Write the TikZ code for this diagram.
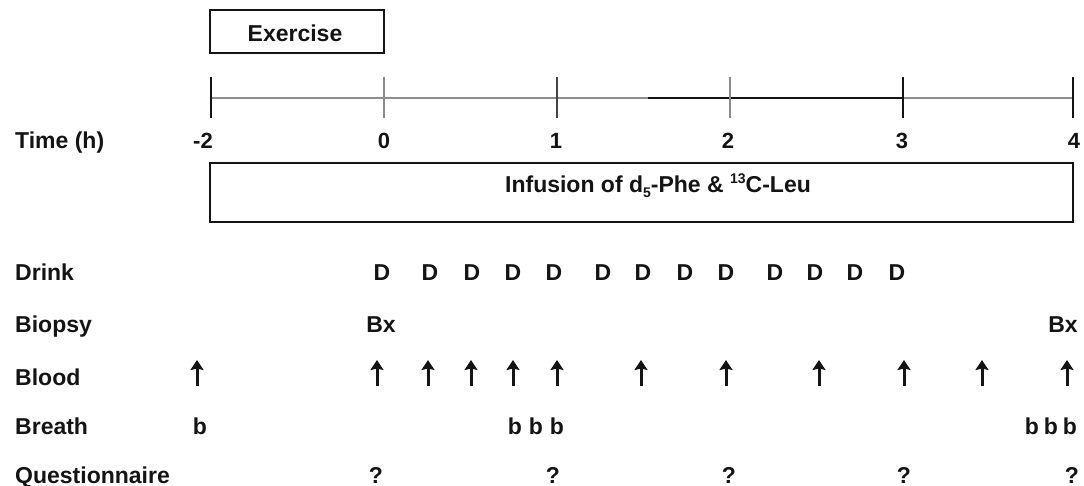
\documentclass[tikz,border=0pt]{standalone}
\usepackage{fontspec}
\setmainfont{Liberation Sans}
\usetikzlibrary{arrows.meta}
\definecolor{ink}{HTML}{141414}
\definecolor{axisgray}{HTML}{8C8C8C}
\begin{document}
\begin{tikzpicture}[x=1pt,y=-1pt,
  lbl/.style={font=\fontsize{23}{25}\selectfont\bfseries, text=ink, anchor=base west, inner sep=0pt},
  mk/.style={font=\fontsize{23}{25}\selectfont\bfseries, text=ink, anchor=base, inner sep=0pt},
  num/.style={font=\fontsize{22}{24}\selectfont\bfseries, text=ink, anchor=base, inner sep=0pt},
  boxline/.style={draw=ink, line width=1.8pt},
  axis/.style={line width=2pt},
  tick/.style={line width=2pt},
  bloodarrow/.style={draw=ink, line width=3pt, -{Stealth[length=10pt,width=13pt,inset=1.5pt]}}]
\useasboundingbox (0,0) rectangle (1084,486);

% Exercise box
\draw[boxline] (210,10) rectangle (384,53);
\node[font=\fontsize{23}{25}\selectfont\bfseries, text=ink, anchor=base, inner sep=0] (exercise) at (295,42) {Exercise};

% Timeline
\draw[axis, axisgray] (210,98) -- (648,98);
\draw[axis, ink] (648,98) -- (903,98);
\draw[axis, axisgray] (903,98) -- (1073,98);
\draw[tick, ink] (211,77) -- (211,118);
\draw[tick, axisgray] (384,77) -- (384,118);
\draw[tick, ink!80] (557,77) -- (557,118);
\draw[tick, axisgray] (730,77) -- (730,118);
\draw[tick, ink] (903,77) -- (903,118);
\draw[tick, ink] (1073,77) -- (1073,118);

% Time labels
\node[lbl] (time) at (15,149) {Time (h)};
\node[num] (tm2) at (203,149) {-2};
\node[num] (t0) at (384,149) {0};
\node[num] (t1) at (556,149) {1};
\node[num] (t2) at (728,149) {2};
\node[num] (t3) at (902,149) {3};
\node[num] (t4) at (1074,149) {4};

% Infusion box
\draw[boxline] (210,163) rectangle (1073,222);
\node[font=\fontsize{23}{25}\selectfont\bfseries, text=ink, anchor=base, inner sep=0] (infusion) at (658,193)
  {Infusion of d\raisebox{-0.18em}{\fontsize{14}{14}\selectfont 5}-Phe \& \raisebox{0.42em}{\fontsize{14}{14}\selectfont 13}C-Leu};

% Row labels
\node[lbl] (drink) at (15,281) {Drink};
\node[lbl] (biopsy) at (15,332) {Biopsy};
\node[lbl] (blood) at (15,385) {Blood};
\node[lbl] (breath) at (15,434) {Breath};
\node[lbl] (quest) at (15,483) {Questionnaire};

% Drinks
\foreach \x [count=\i] in {382,430,472,513,554,603,643,685,726,775,815,855,897}
  \node[mk] (d\i) at (\x,281) {D};

% Biopsies
\node[mk] (bx1) at (381,332) {Bx};
\node[mk] (bx2) at (1063,332) {Bx};

% Blood samples
\foreach \x [count=\i] in {197,377,428,471,513,557,641,726,819,904,982,1067}
  \draw[bloodarrow] (\x,386) -- (\x,360);

% Breath
\foreach \x [count=\i] in {200,515,536,557,1032,1051,1070}
  \node[mk] (b\i) at (\x,434) {b};

% Questionnaire
\foreach \x [count=\i] in {376,553,729,904,1072}
  \node[mk] (q\i) at (\x,483) {?};
\end{tikzpicture}
\end{document}
